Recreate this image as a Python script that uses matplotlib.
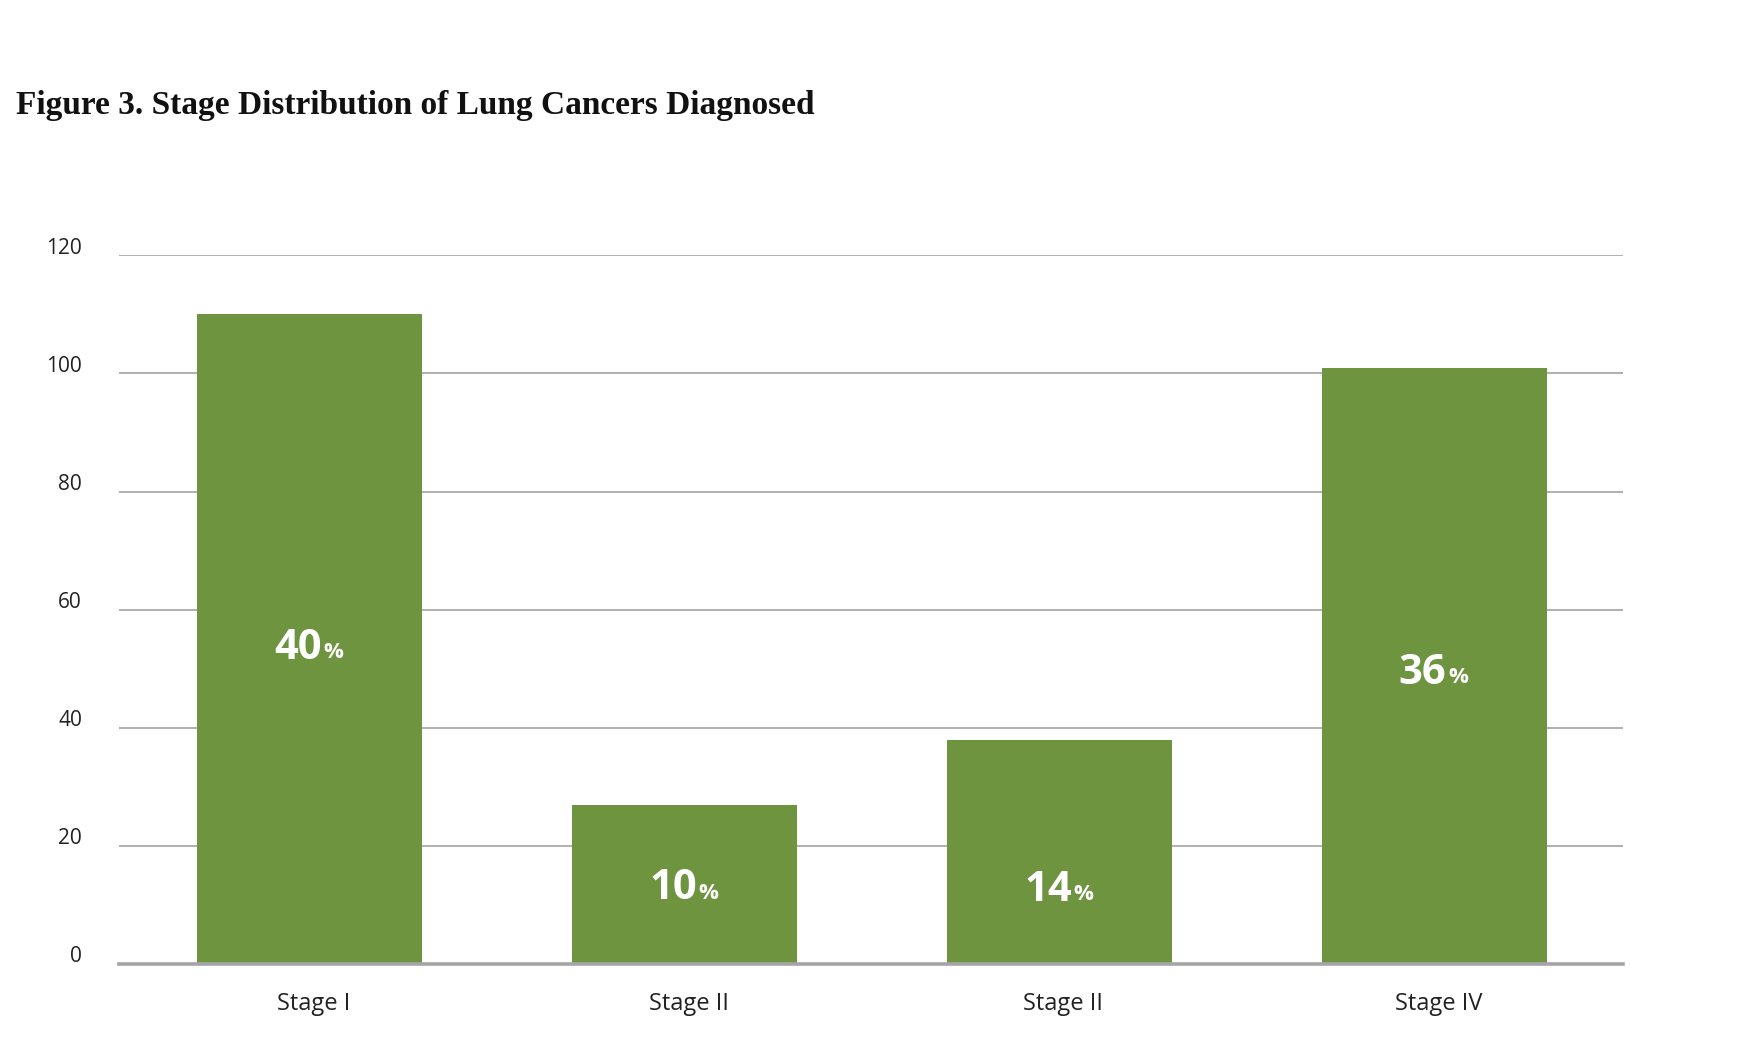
import matplotlib
matplotlib.use('Agg')
import matplotlib.pyplot as plt
import matplotlib.transforms as mtransforms

# data
stages = ['Stage I', 'Stage II', 'Stage II', 'Stage IV']
counts = [110, 27, 38, 101]
pct_labels = ['40', '10', '14', '36']
pct_label_y = [53.5, 12.7, 12.4, 49.2]
y_ticks = [0, 20, 40, 60, 80, 100, 120]

GREEN = '#6e943f'
GRID = '#a9a9ab'
TEXT = '#222222'

fig = plt.figure(figsize=(17.56, 10.38), dpi=100)
ax = fig.add_axes([0.068, 0.0713, 0.8565, 0.6827])

x = list(range(len(stages)))
ax.bar(x, counts, width=0.6, color=GREEN, zorder=3)

ax.set_ylim(0, 120)
ax.set_xlim(-0.507, 3.505)
ax.set_yticks(y_ticks)
ax.set_xticks(x)
ax.set_xticklabels(stages, fontsize=17, color=TEXT, family='Open Sans')
ax.set_yticklabels([str(v) for v in y_ticks], fontsize=15, color=TEXT, family='Open Sans')
ax.tick_params(axis='y', length=0, pad=27)
ax.tick_params(axis='x', length=0, pad=20)

# shift y labels slightly above their gridlines
offset = mtransforms.ScaledTranslation(0, 7 / 72, fig.dpi_scale_trans)
for lbl in ax.get_yticklabels():
    lbl.set_transform(lbl.get_transform() + offset)
xoff = mtransforms.ScaledTranslation(3 / 72, 0, fig.dpi_scale_trans)
for lbl in ax.get_xticklabels():
    lbl.set_transform(lbl.get_transform() + xoff)

ax.grid(axis='y', color=GRID, linewidth=1.3, zorder=0)
for side in ['top', 'right', 'left']:
    ax.spines[side].set_visible(False)
ax.spines['bottom'].set_color('#a5a5a7')
ax.spines['bottom'].set_linewidth(2.6)
ax.spines['bottom'].set_zorder(4)

for xi, lab, yl in zip(x, pct_labels, pct_label_y):
    ax.annotate(lab, (xi, yl), xytext=(9, 0), textcoords='offset points',
                ha='right', va='center', color='white', fontsize=30,
                fontweight='bold', family='Open Sans', zorder=5)
    ax.annotate('%', (xi, yl), xytext=(10, -3), textcoords='offset points',
                ha='left', va='center', color='white', fontsize=16,
                fontweight='bold', family='Open Sans', zorder=5)

fig.text(0.009, 0.89, 'Figure 3. Stage Distribution of Lung Cancers Diagnosed',
         fontsize=24, fontweight='bold', family='Liberation Serif', color='#111111',
         va='baseline')

fig.savefig('out.png', dpi=100, facecolor='white')
